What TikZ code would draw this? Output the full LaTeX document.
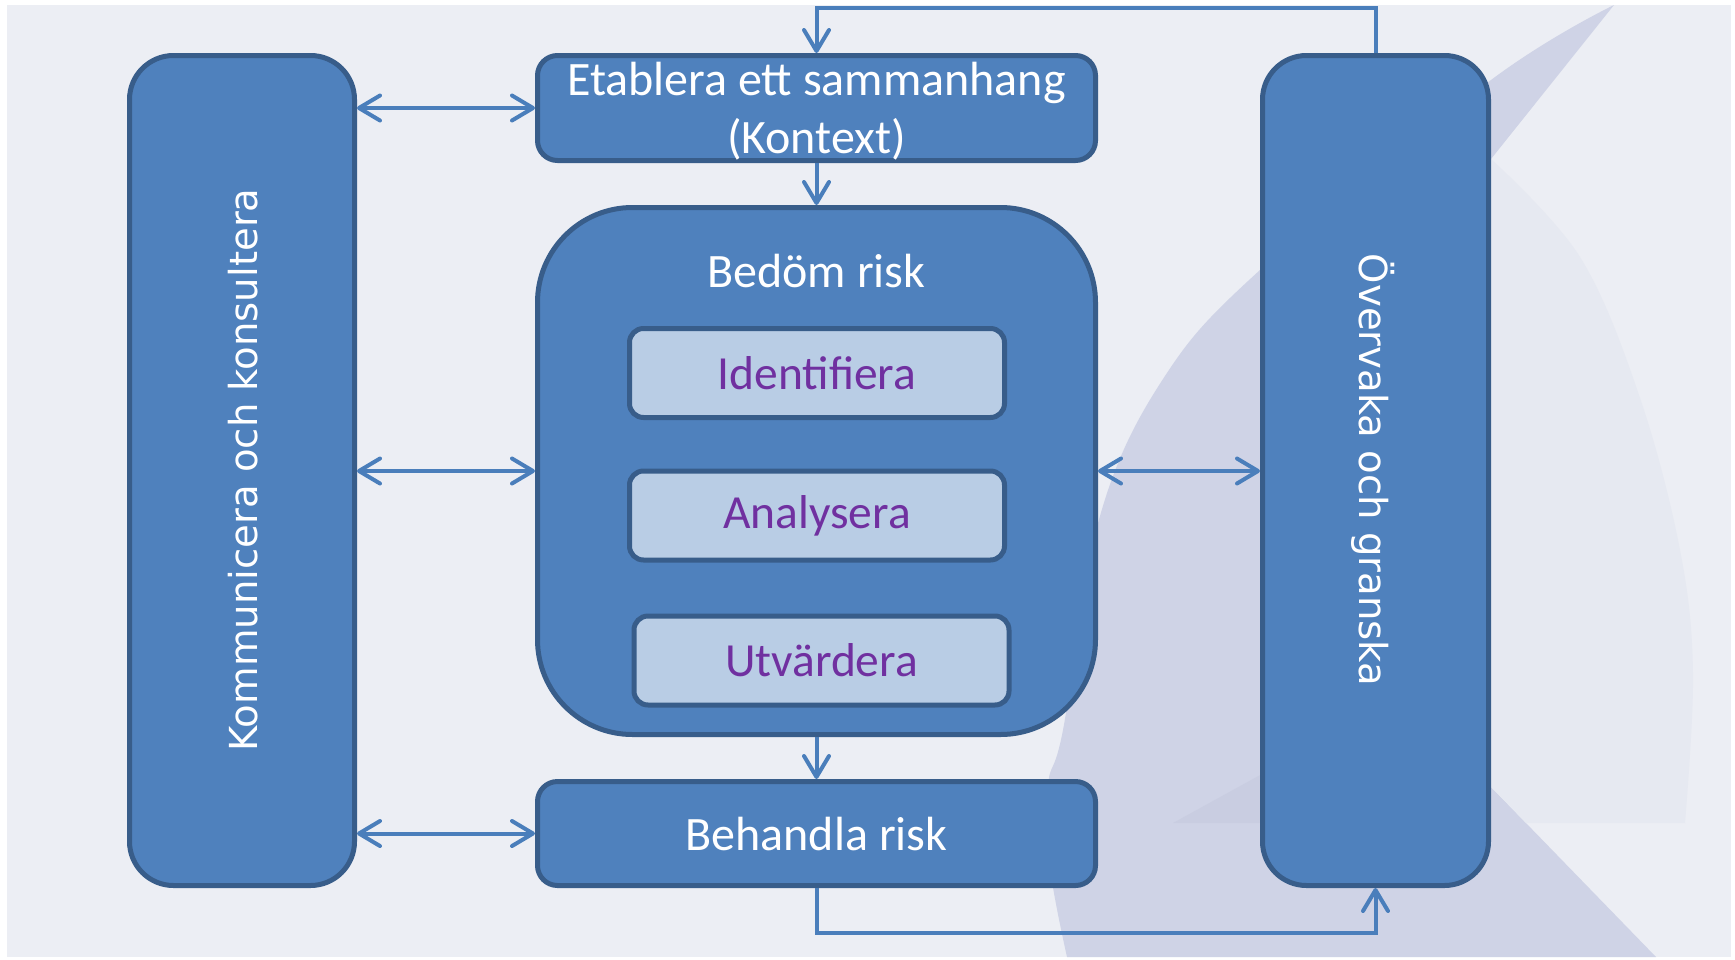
\documentclass[tikz,border=0pt]{standalone}
\usepackage{fontspec}
\setmainfont{Carlito}
\newfontfamily\vfont{DejaVu Sans}
\usetikzlibrary{arrows.meta}
\definecolor{bgbase}{HTML}{ECEEF4}
\definecolor{lavdark}{HTML}{CFD3E6}
\definecolor{lavshade}{HTML}{C9CDE1}
\definecolor{lavlight}{HTML}{E6E9F1}
\definecolor{boxfill}{HTML}{4F81BD}
\definecolor{boxline}{HTML}{385D8A}
\definecolor{arrowcol}{HTML}{4A7EBB}
\definecolor{innerfill}{HTML}{B9CDE5}
\definecolor{purpletext}{HTML}{7030A0}
\begin{document}
\begin{tikzpicture}[x=1pt,y=-1pt,
  box/.style={draw=boxline, fill=boxfill, line width=5pt, inner sep=0pt},
  inbox/.style={draw=boxline, fill=innerfill, line width=5pt, inner sep=0pt,
    rounded corners=14pt, minimum width=375pt, minimum height=89pt,
    text=purpletext, font=\fontsize{47.5}{56}\selectfont},
  wtext/.style={text=white, font=\fontsize{48}{58}\selectfont, align=center, inner sep=0pt},
  vtext/.style={text=white, font=\vfont\fontsize{38.6}{46}\selectfont, inner sep=0pt},
  conn/.style={draw=arrowcol, line width=4pt},
  tipb/.tip={Straight Barb[length=21pt,width=25pt,round]},
  arr/.style={conn, -tipb},
  dbl/.style={conn, tipb-tipb},
]
\useasboundingbox (0,0) rectangle (1735,959);
% background
\fill[white] (0,0) rectangle (1735,959);
\fill[bgbase] (7,5) rectangle (1731,957);
\fill[lavdark] plot[smooth, tension=0.6] coordinates {(1614,5) (1491,80) (1260,270) (1163,379) (1100,516) (1063,730) (1048,785) (1050,867) (1067,957)}
  -- (1656,957) -- (1491,787) -- (1491,159) -- cycle;
\fill[lavlight] plot[smooth, tension=0.6] coordinates {(1491,159) (1580,257) (1640,398) (1680,550) (1693,673) (1685,823)}
  -- (1526,823) -- (1491,787) -- cycle;
\fill[lavshade] (1173,823) -- (1262,823) -- (1262,774) -- cycle;

% boxes
\node[box, rounded corners=44pt, minimum width=225pt, minimum height=830pt] (komm) at (242,470.5) {};
\node[box, rounded corners=44pt, minimum width=226pt, minimum height=830pt] (overvaka) at (1375.5,470.5) {};
\node[box, rounded corners=20pt, minimum width=558pt, minimum height=105pt] (etab) at (816.5,108) {};
\node[box, rounded corners=95pt, minimum width=558pt, minimum height=527pt] (bedom) at (816.5,471) {};
\node[box, rounded corners=20pt, minimum width=558pt, minimum height=104pt] (behandla) at (816.5,833.5) {};
\node[inbox] (ident) at (817,373) {Identifiera};
\node[inbox] (analys) at (817,515.5) {Analysera};
\node[inbox] (utv) at (821.5,660.5) {Utvärdera};

% texts
\node[wtext] (etabtext) at (816.5,111) {Etablera ett sammanhang\\(Kontext)};
\node[wtext] (bedomtext) at (816.5,271) {Bedöm risk};
\node[wtext] (behandlatext) at (816.5,833.5) {Behandla risk};
\node[vtext, rotate=90] (kommtext) at (243,470) {Kommunicera och konsultera};
\node[vtext, rotate=-90] (overtext) at (1373,470) {Övervaka och granska};

% connectors
\coordinate (topy) at (0,7.5);
\coordinate (boty) at (0,933);
\draw[dbl] (komm.east |- etab.west) -- (etab.west);
\draw[dbl] (komm.east |- bedom.west) -- (bedom.west);
\draw[dbl] (komm.east |- behandla.west) -- (behandla.west);
\draw[dbl] (bedom.east) -- (overvaka.west |- bedom.east);
\draw[arr] (etab.south) -- (bedom.north);
\draw[arr] (bedom.south) -- (behandla.north);
\draw[arr] (overvaka.north) -- (overvaka.north |- topy) -- (etab.north |- topy) -- (etab.north);
\draw[arr] (behandla.south) -- (behandla.south |- boty) -- (overvaka.south |- boty) -- (overvaka.south);
\end{tikzpicture}
\end{document}
